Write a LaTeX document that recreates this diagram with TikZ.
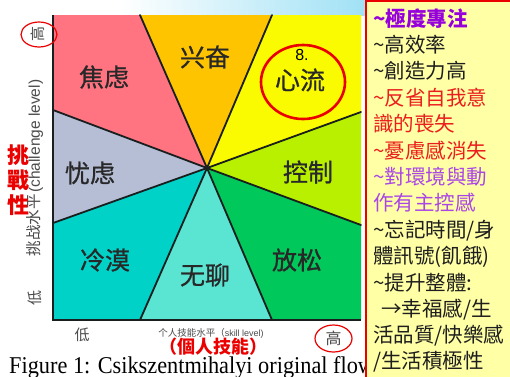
\documentclass[tikz,border=0pt]{standalone}
\usepackage{fontspec}
\setmainfont{Liberation Serif}
\setsansfont{Liberation Sans}
\newfontfamily\cjksc{Noto Sans CJK SC}
\newfontfamily\cjkscm[FakeBold=0.8]{Noto Sans CJK SC}
\newfontfamily\cjktc{Noto Sans CJK TC}
\usetikzlibrary{shapes.geometric}
\definecolor{cpink}{RGB}{255,116,128}
\definecolor{corange}{RGB}{255,196,0}
\definecolor{cyellow}{RGB}{250,250,0}
\definecolor{clime}{RGB}{184,240,0}
\definecolor{cgreen}{RGB}{0,200,90}
\definecolor{clcyan}{RGB}{90,228,210}
\definecolor{ccyan}{RGB}{0,210,200}
\definecolor{cgray}{RGB}{182,190,214}
\definecolor{lblgray}{RGB}{40,40,40}
\definecolor{axgray}{RGB}{75,75,75}
\definecolor{ringred}{RGB}{235,0,0}
\definecolor{boxyellow}{RGB}{255,255,165}
\definecolor{txtred}{RGB}{235,30,30}
\definecolor{txtpurple}{RGB}{150,0,220}
\definecolor{txtlpurple}{RGB}{170,70,230}
\definecolor{txtblack}{RGB}{30,30,30}
\definecolor{skyc}{RGB}{160,225,245}
\definecolor{linedark}{RGB}{25,30,30}
\tikzset{
  chartlbl/.style={font=\cjkscm\fontsize{25}{25}\selectfont, text=lblgray, inner sep=0pt},
  sepline/.style={draw=linedark, line width=1.8pt},
  axisline/.style={draw=linedark, line width=1.4pt},
  axislbl/.style={font=\cjksc\fontsize{15}{15}\selectfont, text=axgray, inner sep=0pt},
  redring/.style={draw=ringred, ellipse, line width=1.2pt, inner sep=0pt},
  boxtxt/.style={font=\cjktc\fontsize{20.5}{20.5}\selectfont, anchor=base west, inner sep=0pt},
  redvert/.style={font=\cjktc\bfseries\fontsize{22}{22}\selectfont, text=ringred, inner sep=0pt}
}
\begin{document}
\begin{tikzpicture}[x=1pt,y=-1pt]
\useasboundingbox (0,0) rectangle (510,376);
\fill[white] (0,0) rectangle (510,376);
\shade[left color=white, right color=skyc] (120,0) rectangle (366,15);
% key points
\coordinate (C) at (207,168);
\coordinate (TL) at (53,15);
\coordinate (TR) at (361,15);
\coordinate (BR) at (361,320);
\coordinate (BL) at (53,320);
\coordinate (T1) at (140,15);
\coordinate (T2) at (272,15);
\coordinate (R1) at (361,112);
\coordinate (R2) at (361,225);
\coordinate (B2) at (272,320);
\coordinate (B1) at (140,320);
\coordinate (L2) at (53,223);
\coordinate (L1) at (53,110);
% sectors
\fill[cpink] (C) -- (L1) -- (TL) -- (T1) -- cycle;
\fill[corange] (C) -- (T1) -- (T2) -- cycle;
\fill[cyellow] (C) -- (T2) -- (TR) -- (R1) -- cycle;
\fill[clime] (C) -- (R1) -- (R2) -- cycle;
\fill[cgreen] (C) -- (R2) -- (BR) -- (B2) -- cycle;
\fill[clcyan] (C) -- (B2) -- (B1) -- cycle;
\fill[ccyan] (C) -- (B1) -- (BL) -- (L2) -- cycle;
\fill[cgray] (C) -- (L2) -- (L1) -- cycle;
% separators
\foreach \p in {T1,T2,R1,R2,B2,B1,L2,L1} \draw[sepline, line cap=round] (C) -- (\p);
\draw[axisline] (TL) -- (BL) -- (BR);
% sector labels
\node[chartlbl] (anx) at (104,77) {焦虑};
\node[chartlbl] (aro) at (205,57) {兴奋};
\node[chartlbl] (flow) at (300,80) {心流};
\node[chartlbl] (ctl) at (308,172) {控制};
\node[chartlbl] (wor) at (90,173) {忧虑};
\node[chartlbl] (apa) at (105,260) {冷漠};
\node[chartlbl] (bor) at (205,275) {无聊};
\node[chartlbl] (rel) at (297,260) {放松};
\node[font=\sffamily\fontsize{16}{16}\selectfont, inner sep=0pt] (eight) at (302,55) {8.};
\node[redring, line width=2.6pt, minimum width=84pt, minimum height=74pt] (flowring) at (303,82) {};
% vertical axis
\node[axislbl, rotate=90] (hiY) at (38,34) {高};
\node[redring, minimum width=36pt, minimum height=25pt] (hiYring) at (39,34.5) {};
\node[axislbl, rotate=90] (loY) at (35,298) {低};
\node[rotate=90, inner sep=0pt, text=axgray] (yaxis) at (35,168)
  {{\cjksc\fontsize{15.5}{15.5}\selectfont 挑战水平}\,{\sffamily\fontsize{15.5}{15.5}\selectfont (challenge level)}};
\node[redvert] (tiao) at (19,155) {挑};
\node[redvert] (zhan) at (19,180) {戰};
\node[redvert] (xing) at (19,205) {性};
% horizontal axis
\node[axislbl] (loX) at (82,335) {低};
\node[axislbl, font=\cjksc\fontsize{16}{16}\selectfont] (hiX) at (333.5,338) {高};
\node[redring, minimum width=37pt, minimum height=27pt] (hiXring) at (333.5,338.5) {};
\node[inner sep=0pt, text=axgray] (xaxis) at (211,333)
  {{\cjksc\fontsize{9.5}{9.5}\selectfont 个人技能水平（}{\sffamily\fontsize{9}{9}\selectfont skill level)}};
\node[font=\cjktc\bfseries\fontsize{18}{18}\selectfont, text=ringred, inner sep=0pt] (skill) at (213,346.5) {（個人技能）};
% caption
\node[font=\rmfamily\fontsize{22.3}{22.3}\selectfont, anchor=base west, inner sep=0pt] (cap) at (9,373) {\scalebox{1}[1.08]{Figure 1: Csikszentmihalyi original flow}};
% right box
\draw[draw=ringred, line width=1.5pt, fill=boxyellow] (366,1) rectangle (515,380);
\node[boxtxt, text=txtpurple, font=\cjktc\bfseries\fontsize{20.5}{20.5}\selectfont] (l1) at (373,26) {\textasciitilde 極度專注};
\node[boxtxt, text=txtblack] (l2) at (373,52) {\textasciitilde 高效率};
\node[boxtxt, text=txtblack] (l3) at (373,78.5) {\textasciitilde 創造力高};
\node[boxtxt, text=txtred] (l4) at (373,105) {\textasciitilde 反省自我意};
\node[boxtxt, text=txtred] (l5) at (373,131) {識的喪失};
\node[boxtxt, text=txtred] (l6) at (373,158) {\textasciitilde 憂慮感消失};
\node[boxtxt, text=txtlpurple] (l7) at (373,184) {\textasciitilde 對環境與動};
\node[boxtxt, text=txtlpurple] (l8) at (373,210) {作有主控感};
\node[boxtxt, text=txtblack] (l9) at (373,237) {\textasciitilde 忘記時間/身};
\node[boxtxt, text=txtblack] (l10) at (373,263.5) {體訊號(飢餓)};
\node[boxtxt, text=txtblack] (l11) at (373,290) {\textasciitilde 提升整體:};
\node[boxtxt, text=txtblack] (l12) at (381,316) {→幸福感/生};
\node[boxtxt, text=txtblack] (l13) at (373,342) {活品質/快樂感};
\node[boxtxt, text=txtblack] (l14) at (373,368) {/生活積極性};
\end{tikzpicture}
\end{document}
